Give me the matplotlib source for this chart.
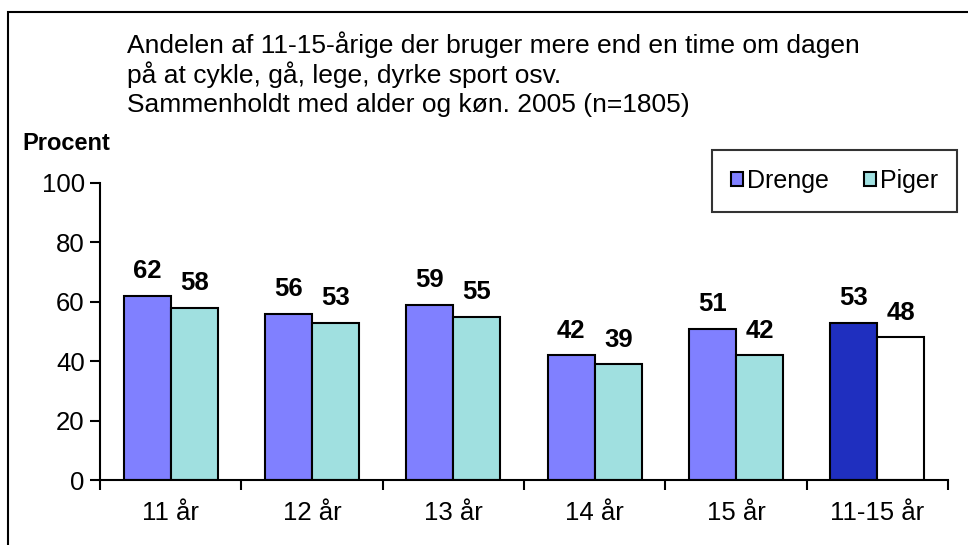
import numpy as np
import matplotlib.pyplot as plt
from matplotlib.patches import Rectangle

categories = ["11 år", "12 år", "13 år", "14 år", "15 år", "11-15 år"]
drenge = [62, 56, 59, 42, 51, 53]
piger = [58, 53, 55, 39, 42, 48]
drenge_colors = ["#8080FF"] * 5 + ["#1F2FBF"]
piger_colors = ["#A0E0E0"] * 5 + ["#FFFFFF"]
y_ticks = [0, 20, 40, 60, 80, 100]
title_lines = [
    "Andelen af 11-15-årige der bruger mere end en time om dagen",
    "på at cykle, gå, lege, dyrke sport osv.",
    "Sammenholdt med alder og køn. 2005 (n=1805)",
]

plt.rcParams["font.family"] = ["Liberation Sans", "DejaVu Sans"]

fig = plt.figure(figsize=(9.68, 5.45), dpi=100)
ax = fig.add_axes([100 / 968, 1 - 480 / 545, 848 / 968, 297 / 545])

x = np.arange(len(categories))
width = 1 / 3
bars_d = ax.bar(x - width / 2, drenge, width, color=drenge_colors,
                edgecolor="black", linewidth=1.5, label="Drenge")
bars_p = ax.bar(x + width / 2, piger, width, color=piger_colors,
                edgecolor="black", linewidth=1.5, label="Piger")

for bars, vals in ((bars_d, drenge), (bars_p, piger)):
    for b, v in zip(bars, vals):
        ax.annotate(str(v), (b.get_x() + b.get_width() / 2, v),
                    xytext=(0, 9), textcoords="offset points",
                    ha="center", va="bottom", fontsize=18.5, fontweight="bold")

ax.set_xlim(-0.5, len(categories) - 0.5)
ax.set_ylim(0, 100)
ax.set_yticks(y_ticks)
ax.set_yticklabels([str(t) for t in y_ticks], fontsize=18.5)
ax.set_xticks(np.arange(len(categories) + 1) - 0.5)
ax.set_xticklabels([])
ax.set_xticks(x, minor=True)
ax.set_xticklabels(categories, minor=True, fontsize=18.5)
ax.tick_params(axis="x", which="major", direction="out", length=7, width=1.5)
ax.tick_params(axis="x", which="minor", length=0, pad=15)
ax.tick_params(axis="y", direction="out", length=7, width=1.5, pad=4)
for side in ("top", "right"):
    ax.spines[side].set_visible(False)
for side in ("left", "bottom"):
    ax.spines[side].set_linewidth(1.5)

leg = ax.legend(loc="upper right", bbox_to_anchor=(957 / 968, 1 - 150 / 545),
                bbox_transform=fig.transFigure, ncol=2, fontsize=18,
                frameon=True, fancybox=False, edgecolor="black",
                handlelength=0.5, handleheight=0.5, handletextpad=0.15,
                columnspacing=1.4, borderpad=0.75, borderaxespad=0)
leg.get_frame().set_linewidth(1.5)
leg.legend_handles[0].set_facecolor("#8080FF")
leg.legend_handles[1].set_facecolor("#A0E0E0")

for i, line in enumerate(title_lines):
    fig.text(127 / 968, 1 - (45 + 30 * i) / 545, line,
             fontsize=19, va="center", ha="left")
fig.text(22 / 968, 1 - 143 / 545, "Procent", fontsize=17,
         fontweight="bold", va="center", ha="left")

fig.patches.append(Rectangle((8 / 968, -0.1), 1.2, 1 - 12 / 545 + 0.1,
                             transform=fig.transFigure, fill=False,
                             edgecolor="black", linewidth=1.5))

fig.savefig("out.png", dpi=100)
